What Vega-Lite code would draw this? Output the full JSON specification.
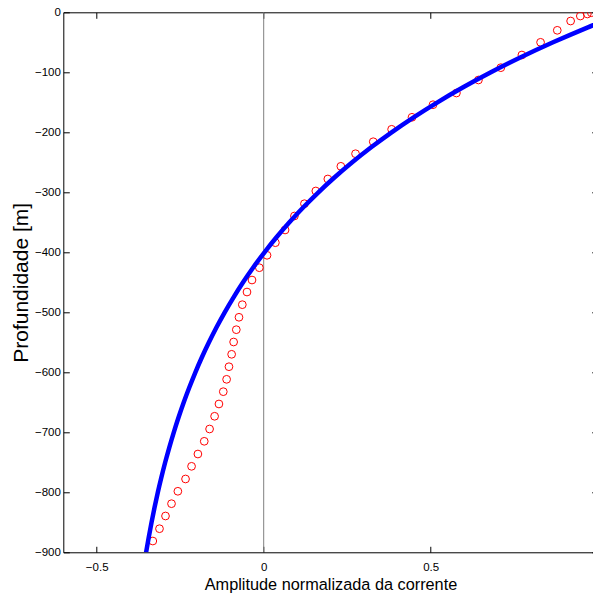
{
  "$schema": "https://vega.github.io/schema/vega-lite/v6.json",
  "width": 534.4,
  "height": 540,
  "autosize": {"type": "none"},
  "padding": {"left": 63.3, "top": 12.3, "right": 0, "bottom": 47.7},
  "background": "white",
  "config": {
    "view": {"stroke": null},
    "axis": {
      "grid": false,
      "domainColor": "#000000",
      "domainWidth": 1,
      "tickColor": "#000000",
      "tickSize": -6,
      "tickWidth": 1,
      "labelFont": "Liberation Sans",
      "labelFontSize": 11.5,
      "labelColor": "#000000",
      "labelFlush": false,
      "titleColor": "#000000",
      "titleFontWeight": "normal"
    }
  },
  "datasets": {
    "zero": [{"amp": 0}],
    "model": [
      {"depth": 0, "amp": 1.0833},
      {"depth": -25, "amp": 0.9707},
      {"depth": -50, "amp": 0.8664},
      {"depth": -75, "amp": 0.7697},
      {"depth": -100, "amp": 0.6802},
      {"depth": -125, "amp": 0.5972},
      {"depth": -150, "amp": 0.5203},
      {"depth": -175, "amp": 0.449},
      {"depth": -200, "amp": 0.383},
      {"depth": -225, "amp": 0.3218},
      {"depth": -250, "amp": 0.2651},
      {"depth": -275, "amp": 0.2126},
      {"depth": -300, "amp": 0.1639},
      {"depth": -325, "amp": 0.1188},
      {"depth": -350, "amp": 0.077},
      {"depth": -375, "amp": 0.0383},
      {"depth": -400, "amp": 0.0024},
      {"depth": -425, "amp": -0.0309},
      {"depth": -450, "amp": -0.0617},
      {"depth": -475, "amp": -0.0902},
      {"depth": -500, "amp": -0.1167},
      {"depth": -525, "amp": -0.1412},
      {"depth": -550, "amp": -0.1639},
      {"depth": -575, "amp": -0.185},
      {"depth": -600, "amp": -0.2045},
      {"depth": -625, "amp": -0.2225},
      {"depth": -650, "amp": -0.2393},
      {"depth": -675, "amp": -0.2548},
      {"depth": -700, "amp": -0.2692},
      {"depth": -725, "amp": -0.2825},
      {"depth": -750, "amp": -0.2949},
      {"depth": -775, "amp": -0.3063},
      {"depth": -800, "amp": -0.3169},
      {"depth": -825, "amp": -0.3267},
      {"depth": -850, "amp": -0.3358},
      {"depth": -875, "amp": -0.3442},
      {"depth": -900, "amp": -0.3521}
    ],
    "obs": [
      {"depth": -0.7, "amp": 0.981},
      {"depth": -2.8, "amp": 0.969},
      {"depth": -6.2, "amp": 0.948},
      {"depth": -14.5, "amp": 0.919},
      {"depth": -30, "amp": 0.879},
      {"depth": -50, "amp": 0.829},
      {"depth": -71.2, "amp": 0.773},
      {"depth": -92.3, "amp": 0.71},
      {"depth": -112.8, "amp": 0.643},
      {"depth": -134.5, "amp": 0.577},
      {"depth": -154, "amp": 0.507},
      {"depth": -175, "amp": 0.444},
      {"depth": -195, "amp": 0.383},
      {"depth": -215.7, "amp": 0.328},
      {"depth": -235.7, "amp": 0.275},
      {"depth": -256.7, "amp": 0.231},
      {"depth": -277.8, "amp": 0.192},
      {"depth": -297.8, "amp": 0.156},
      {"depth": -319, "amp": 0.122},
      {"depth": -339.5, "amp": 0.092},
      {"depth": -362.8, "amp": 0.064},
      {"depth": -384, "amp": 0.035},
      {"depth": -405, "amp": 0.01},
      {"depth": -425.7, "amp": -0.013},
      {"depth": -446.2, "amp": -0.035},
      {"depth": -466.2, "amp": -0.05},
      {"depth": -487.3, "amp": -0.064},
      {"depth": -508.3, "amp": -0.074},
      {"depth": -529, "amp": -0.082},
      {"depth": -549.5, "amp": -0.09},
      {"depth": -570, "amp": -0.096},
      {"depth": -590.7, "amp": -0.104},
      {"depth": -611.7, "amp": -0.111},
      {"depth": -632.3, "amp": -0.121},
      {"depth": -652.8, "amp": -0.134},
      {"depth": -673.3, "amp": -0.147},
      {"depth": -694.5, "amp": -0.162},
      {"depth": -715, "amp": -0.178},
      {"depth": -736.2, "amp": -0.197},
      {"depth": -756.7, "amp": -0.216},
      {"depth": -777.8, "amp": -0.234},
      {"depth": -798.3, "amp": -0.257},
      {"depth": -819, "amp": -0.276},
      {"depth": -839.5, "amp": -0.294},
      {"depth": -860.7, "amp": -0.312},
      {"depth": -881.2, "amp": -0.332}
    ]
  },
  "layer": [
    {
      "data": {"name": "zero"},
      "mark": {"type": "rule", "color": "#808080", "strokeWidth": 1},
      "encoding": {
        "x": {
          "field": "amp",
          "type": "quantitative",
          "scale": {"domain": [-0.6, 1.0], "nice": false, "zero": false},
          "axis": {
            "orient": "bottom",
            "values": [-0.5, 0, 0.5],
            "format": "~g",
            "labelPadding": 15,
            "title": "Amplitude normalizada da corrente",
            "titleFont": "Liberation Sans",
            "titleFontSize": 16.3,
            "titlePadding": 4
          }
        }
      }
    },
    {
      "data": {"name": "obs"},
      "mark": {"type": "point", "shape": "circle", "filled": false, "color": "#ff0000", "strokeWidth": 1, "size": 60, "opacity": 1, "clip": true},
      "encoding": {
        "x": {
          "field": "amp",
          "type": "quantitative",
          "axis": {"orient": "top", "values": [-0.5, 0, 0.5, 1], "labels": false, "title": null}
        },
        "y": {
          "field": "depth",
          "type": "quantitative",
          "axis": {"orient": "right", "values": [-900, -800, -700, -600, -500, -400, -300, -200, -100, 0], "labels": false, "title": null}
        }
      }
    },
    {
      "data": {"name": "model"},
      "mark": {"type": "line", "color": "#0000ff", "strokeWidth": 4.5, "clip": true, "interpolate": "monotone"},
      "encoding": {
        "x": {"field": "amp", "type": "quantitative", "axis": null},
        "y": {
          "field": "depth",
          "type": "quantitative",
          "scale": {"domain": [-900, 0], "nice": false, "zero": false},
          "axis": {
            "orient": "left",
            "values": [-900, -800, -700, -600, -500, -400, -300, -200, -100, 0],
            "format": "d",
            "labelPadding": 9,
            "title": "Profundidade [m]",
            "titleFont": "Liberation Sans",
            "titleFontSize": 21,
            "titlePadding": 3
          }
        }
      }
    }
  ],
  "resolve": {"axis": {"x": "independent", "y": "independent"}}
}
